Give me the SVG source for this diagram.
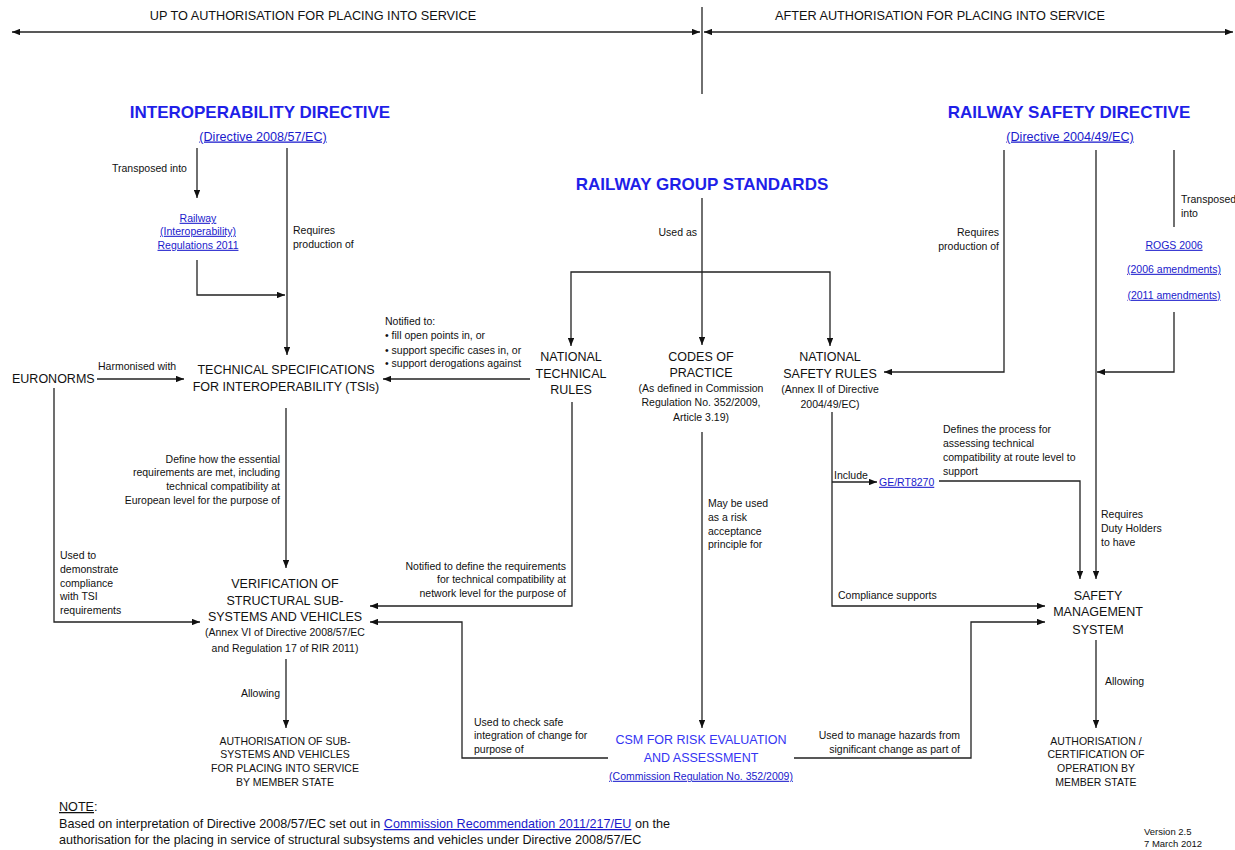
<svg xmlns="http://www.w3.org/2000/svg" width="1235" height="850" viewBox="0 0 1235 850">
<style>
text{font-family:"Liberation Sans",Arial,sans-serif;fill:#111}
.sec{font-size:12.7px}
.hdr{font-size:17px;font-weight:bold;fill:#1f1fe8}
.node{font-size:12.5px}
.sub{font-size:10.5px}
.lbl{font-size:10.5px}
.link{fill:#1a1acc;text-decoration:underline}
.csm{font-size:12.5px;fill:#3434f2}
.mid{text-anchor:middle}
.end{text-anchor:end}
.note{font-size:12.6px}
.ver{font-size:9.5px}
.c path{fill:none;stroke:#222;stroke-width:1.3}
.a{marker-end:url(#ah)}
.b{marker-start:url(#ah);marker-end:url(#ah)}
</style>
<defs>
<marker id="ah" viewBox="0 0 10 8" refX="10" refY="4" markerWidth="8" markerHeight="6.5" markerUnits="userSpaceOnUse" orient="auto-start-reverse">
<path d="M0,0 L10,4 L0,8 z" fill="#111"/>
</marker>
</defs>
<rect width="1235" height="850" fill="#fff"/>

<g id="connectors" class="c">
<path class="b" d="M12,32 H700"/>
<path class="b" d="M704,32 H1233"/>
<path d="M702,7 V94"/>
<path class="a" d="M197,148 V198"/>
<path class="a" d="M287,148 V355"/>
<path class="a" d="M197,260 V295 H285"/>
<path class="a" d="M97,379 H184"/>
<path class="a" d="M54,388 V622 H200"/>
<path class="a" d="M286,408 V568"/>
<path class="a" d="M530,379 H383"/>
<path class="a" d="M702,198 V345"/>
<path class="a" d="M702,272 H571 V346"/>
<path class="a" d="M702,272 H830 V346"/>
<path class="a" d="M1004,150 V372 H884"/>
<path class="a" d="M1096,150 V579"/>
<path d="M1174,150 V227"/>
<path class="a" d="M1174,312 V372 H1097"/>
<path class="a" d="M572,402 V606 H370"/>
<path class="a" d="M702,432 V728"/>
<path class="a" d="M832,412 V606 H1045"/>
<path class="a" d="M832,482 H877"/>
<path class="a" d="M939,481 H1080 V579"/>
<path class="a" d="M608,758 H462 V622 H370"/>
<path class="a" d="M794,758 H971 V622 H1045"/>
<path class="a" d="M286,659 V728"/>
<path class="a" d="M1096,640 V728"/>
</g>

<g id="header">
<text class="sec mid" x="313" y="19.5">UP TO AUTHORISATION FOR PLACING INTO SERVICE</text>
<text class="sec mid" x="940" y="19.5">AFTER AUTHORISATION FOR PLACING INTO SERVICE</text>
</g>

<g id="interoperability-directive">
<text class="hdr mid" x="260" y="118">INTEROPERABILITY DIRECTIVE</text>
<text class="node link mid" x="263" y="140.5" style="font-size:12.6px">(Directive 2008/57/EC)</text>
</g>

<g id="railway-regulations">
<text class="sub link mid" x="198" y="221.8">Railway</text>
<text class="sub link mid" x="198" y="234.8">(Interoperability)</text>
<text class="sub link mid" x="198" y="248.8">Regulations 2011</text>
</g>

<g id="railway-group-standards">
<text class="hdr mid" x="702" y="190">RAILWAY GROUP STANDARDS</text>
</g>

<g id="railway-safety-directive">
<text class="hdr mid" x="1069" y="118">RAILWAY SAFETY DIRECTIVE</text>
<text class="node link mid" x="1070" y="140.5" style="font-size:12.6px">(Directive 2004/49/EC)</text>
</g>

<g id="rogs">
<text class="sub link mid" x="1174" y="248.8">ROGS 2006</text>
<text class="sub link mid" x="1174" y="272.8">(2006 amendments)</text>
<text class="sub link mid" x="1174" y="298.8">(2011 amendments)</text>
</g>

<g id="euronorms">
<text class="node" x="12" y="383">EURONORMS</text>
</g>

<g id="tsi">
<text class="node mid" x="286" y="373.5">TECHNICAL SPECIFICATIONS</text>
<text class="node mid" x="286" y="390.5">FOR INTEROPERABILITY (TSIs)</text>
</g>

<g id="national-technical-rules">
<text class="node mid" x="571" y="360.5">NATIONAL</text>
<text class="node mid" x="571" y="377.5">TECHNICAL</text>
<text class="node mid" x="571" y="393.5">RULES</text>
</g>

<g id="codes-of-practice">
<text class="node mid" x="701" y="360.5">CODES OF</text>
<text class="node mid" x="701" y="376.5">PRACTICE</text>
<text class="sub mid" x="701" y="391.8">(As defined in Commission</text>
<text class="sub mid" x="701" y="405.8">Regulation No. 352/2009,</text>
<text class="sub mid" x="701" y="420.8">Article 3.19)</text>
</g>

<g id="national-safety-rules">
<text class="node mid" x="830" y="360.5">NATIONAL</text>
<text class="node mid" x="830" y="377.5">SAFETY RULES</text>
<text class="sub mid" x="830" y="392.8">(Annex II of Directive</text>
<text class="sub mid" x="830" y="407.8">2004/49/EC)</text>
</g>

<g id="ge-rt8270">
<text class="sub link" x="879" y="485.8">GE/RT8270</text>
</g>

<g id="verification">
<text class="node mid" x="285" y="587.5">VERIFICATION OF</text>
<text class="node mid" x="285" y="604.5">STRUCTURAL SUB-</text>
<text class="node mid" x="285" y="620.5">SYSTEMS AND VEHICLES</text>
<text class="sub mid" x="285" y="635.8">(Annex VI of Directive 2008/57/EC</text>
<text class="sub mid" x="285" y="651.8">and Regulation 17 of RIR 2011)</text>
</g>

<g id="authorisation-subsystems">
<text class="sub mid" x="285" y="744.8">AUTHORISATION OF SUB-</text>
<text class="sub mid" x="285" y="757.8">SYSTEMS AND VEHICLES</text>
<text class="sub mid" x="285" y="771.8">FOR PLACING INTO SERVICE</text>
<text class="sub mid" x="285" y="785.8">BY MEMBER STATE</text>
</g>

<g id="csm">
<text class="csm mid" x="701" y="743.5">CSM FOR RISK EVALUATION</text>
<text class="csm mid" x="701" y="761.5">AND ASSESSMENT</text>
<text class="sub link mid" x="701" y="779.8">(Commission Regulation No. 352/2009)</text>
</g>

<g id="safety-management-system">
<text class="node mid" x="1098" y="599.5">SAFETY</text>
<text class="node mid" x="1098" y="615.5">MANAGEMENT</text>
<text class="node mid" x="1098" y="633.5">SYSTEM</text>
</g>

<g id="authorisation-operation">
<text class="sub mid" x="1096" y="744.8">AUTHORISATION /</text>
<text class="sub mid" x="1096" y="757.8">CERTIFICATION OF</text>
<text class="sub mid" x="1096" y="771.8">OPERATION BY</text>
<text class="sub mid" x="1096" y="785.8">MEMBER STATE</text>
</g>

<g id="labels">
<text class="lbl" x="112" y="172">Transposed into</text>
<text class="lbl" x="293" y="234">Requires</text>
<text class="lbl" x="293" y="248">production of</text>
<text class="lbl" x="98" y="370">Harmonised with</text>
<text class="lbl" x="385" y="325">Notified to:</text>
<text class="lbl" x="385" y="339">• fill open points in, or</text>
<text class="lbl" x="385" y="354">• support specific cases in, or</text>
<text class="lbl" x="385" y="367">• support derogations against</text>
<text class="lbl end" x="697" y="236">Used as</text>
<text class="lbl end" x="999" y="236">Requires</text>
<text class="lbl end" x="999" y="250">production of</text>
<text class="lbl" x="1181" y="203">Transposed</text>
<text class="lbl" x="1181" y="217">into</text>
<text class="lbl end" x="280" y="463">Define how the essential</text>
<text class="lbl end" x="280" y="476">requirements are met, including</text>
<text class="lbl end" x="280" y="490">technical compatibility at</text>
<text class="lbl end" x="280" y="504">European level for the purpose of</text>
<text class="lbl" x="60" y="559">Used to</text>
<text class="lbl" x="60" y="573">demonstrate</text>
<text class="lbl" x="60" y="587">compliance</text>
<text class="lbl" x="60" y="600">with TSI</text>
<text class="lbl" x="60" y="614">requirements</text>
<text class="lbl end" x="566" y="570">Notified to define the requirements</text>
<text class="lbl end" x="566" y="583">for technical compatibility at</text>
<text class="lbl end" x="566" y="597">network level for the purpose of</text>
<text class="lbl" x="708" y="507">May be used</text>
<text class="lbl" x="708" y="521">as a risk</text>
<text class="lbl" x="708" y="535">acceptance</text>
<text class="lbl" x="708" y="548">principle for</text>
<text class="lbl" x="834" y="479">Include</text>
<text class="lbl" x="943" y="433">Defines the process for</text>
<text class="lbl" x="943" y="447">assessing technical</text>
<text class="lbl" x="943" y="461">compatibility at route level to</text>
<text class="lbl" x="943" y="475">support</text>
<text class="lbl" x="1101" y="518">Requires</text>
<text class="lbl" x="1101" y="532">Duty Holders</text>
<text class="lbl" x="1101" y="546">to have</text>
<text class="lbl" x="838" y="599">Compliance supports</text>
<text class="lbl end" x="280" y="697">Allowing</text>
<text class="lbl" x="474" y="726">Used to check safe</text>
<text class="lbl" x="474" y="739">integration of change for</text>
<text class="lbl" x="474" y="753">purpose of</text>
<text class="lbl end" x="960" y="739">Used to manage hazards from</text>
<text class="lbl end" x="960" y="753">significant change as part of</text>
<text class="lbl" x="1105" y="685">Allowing</text>
</g>

<g id="note">
<text class="note" x="59" y="811"><tspan text-decoration="underline">NOTE</tspan>:</text>
<text class="note" x="59" y="828">Based on interpretation of Directive 2008/57/EC set out in <tspan class="link">Commission Recommendation 2011/217/EU</tspan> on the</text>
<text class="note" x="59" y="844">authorisation for the placing in service of structural subsystems and vehicles under Directive 2008/57/EC</text>
</g>

<g id="version">
<text class="ver" x="1144" y="835">Version 2.5</text>
<text class="ver" x="1144" y="847">7 March 2012</text>
</g>
</svg>
